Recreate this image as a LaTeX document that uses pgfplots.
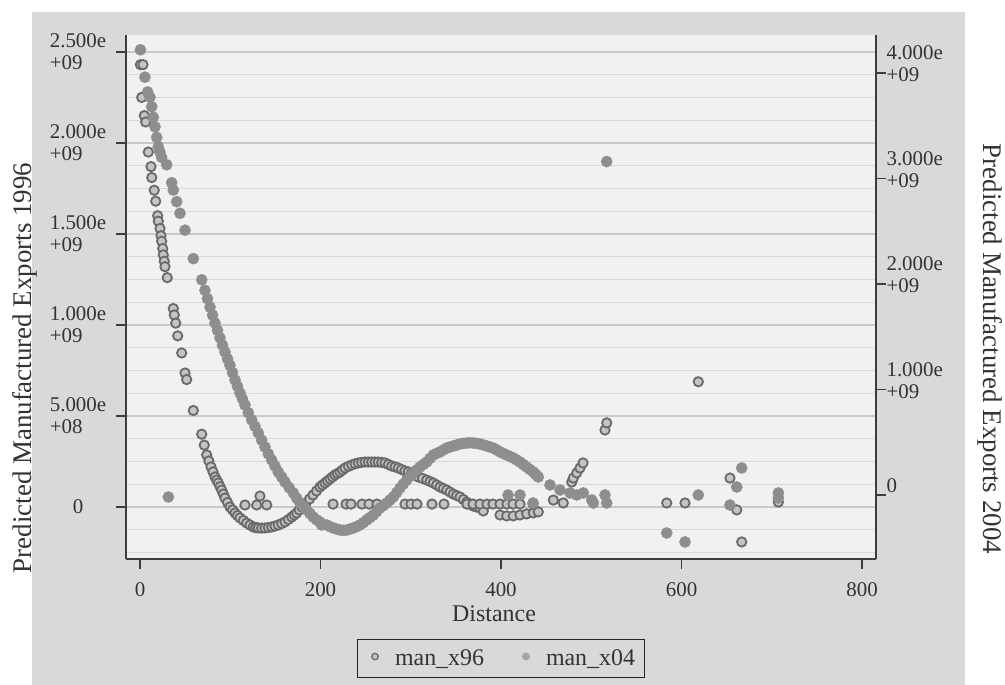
\documentclass[border=0pt]{standalone}
\usepackage{pgfplots}
\usepackage{pgfplotstable}
\pgfplotsset{compat=1.18}
\usepackage{fontspec}
\setmainfont{Liberation Serif}
\definecolor{outerbg}{HTML}{D9D9D9}
\definecolor{plotbg}{HTML}{F1F1F1}
\definecolor{gridminor}{HTML}{D9D9D9}
\definecolor{gridmajor}{HTML}{C9C9C9}
\definecolor{axiscol}{HTML}{3C3C3C}
\definecolor{ringc}{HTML}{6A6A6A}
\definecolor{ringfill}{HTML}{C4C4C4}
\definecolor{dotc}{HTML}{8E8E8E}

\pgfplotstableread{
d v
0.5 2.43e9
3.3 2.43e9
1.9 2.25e9
4.8 2.15e9
6.3 2.115e9
9.2 1.95e9
12.2 1.87e9
13.0 1.81e9
15.8 1.74e9
17.4 1.68e9
19.6 1.60e9
20.3 1.57e9
22.2 1.53e9
23.3 1.49e9
24.0 1.46e9
25.2 1.42e9
25.8 1.385e9
26.9 1.35e9
27.7 1.32e9
30.2 1.26e9
36.9 1.09e9
38.0 1.055e9
39.6 1.01e9
41.8 0.94e9
46.2 0.846e9
49.9 0.736e9
51.7 0.70e9
59.1 0.53e9
68.4 0.40e9
71.2 0.34e9
73.9 0.286e9
76.3 0.253e9
78.7 0.22e9
80.9 0.193e9
83.1 0.165e9
85.0 0.148e9
86.8 0.132e9
88.7 0.112e9
90.5 0.093e9
92.4 0.071e9
94.2 0.049e9
97.0 0.025e9
99.7 0.0
102.5 -0.016e9
105.3 -0.033e9
108.0 -0.047e9
110.8 -0.060e9
114.5 -0.074e9
118.2 -0.088e9
121.9 -0.099e9
125.5 -0.110e9
128.3 -0.113e9
131.1 -0.115e9
134.8 -0.116e9
138.5 -0.115e9
142.2 -0.113e9
145.9 -0.110e9
149.5 -0.105e9
153.2 -0.099e9
157.0 -0.091e9
160.7 -0.082e9
164.4 -0.069e9
168.1 -0.055e9
170.9 -0.044e9
173.6 -0.033e9
176.4 -0.016e9
179.2 0.0
184.0 0.022e9
187.9 0.044e9
191.7 0.066e9
195.6 0.088e9
199.4 0.110e9
202.2 0.121e9
205.0 0.132e9
207.8 0.143e9
210.5 0.154e9
213.3 0.165e9
216.0 0.176e9
218.8 0.184e9
221.6 0.192e9
224.4 0.203e9
227.1 0.214e9
230.9 0.223e9
234.6 0.231e9
238.3 0.237e9
241.9 0.242e9
245.6 0.245e9
249.3 0.247e9
253.0 0.247e9
256.7 0.247e9
260.4 0.247e9
264.0 0.247e9
267.8 0.245e9
271.5 0.242e9
275.2 0.234e9
278.9 0.225e9
282.6 0.220e9
286.2 0.214e9
289.9 0.206e9
293.6 0.198e9
297.3 0.193e9
301.0 0.187e9
304.7 0.176e9
308.4 0.165e9
313.0 0.157e9
317.7 0.148e9
321.4 0.140e9
325.0 0.132e9
328.7 0.121e9
332.4 0.110e9
336.1 0.102e9
339.8 0.093e9
343.5 0.082e9
347.2 0.071e9
350.9 0.063e9
354.6 0.055e9
358.3 0.041e9
362.0 0.027e9
365.7 0.016e9
369.3 0.005e9
373.0 0.000
376.7 -0.005e9
380.4 -0.022e9
398.9 -0.044e9
406.3 -0.049e9
413.6 -0.049e9
421.0 -0.044e9
428.5 -0.038e9
435.8 -0.033e9
441.3 -0.027e9
116.3 0.011e9
129.3 0.011e9
132.9 0.060e9
140.4 0.011e9
213.9 0.016e9
228.3 0.016e9
233.8 0.016e9
246.0 0.016e9
253.7 0.016e9
262.6 0.016e9
293.6 0.016e9
300.3 0.016e9
306.9 0.016e9
323.5 0.016e9
336.8 0.016e9
362.3 0.016e9
369.0 0.016e9
376.7 0.016e9
384.5 0.016e9
391.1 0.016e9
398.9 0.016e9
406.6 0.016e9
413.3 0.016e9
421.1 0.016e9
435.5 0.016e9
458.0 0.038e9
469.0 0.022e9
478.4 0.137e9
480.1 0.159e9
483.9 0.187e9
487.5 0.214e9
490.9 0.242e9
515.2 0.423e9
517.1 0.462e9
583.6 0.022e9
603.9 0.022e9
618.6 0.688e9
653.7 0.159e9
661.2 -0.016e9
666.7 -0.192e9
707.3 0.027e9
}\xninesix

\pgfplotstableread{
d v
0.5 4.22e9
5.5 3.96e9
8.5 3.82e9
11.1 3.77e9
13.0 3.68e9
14.7 3.58e9
16.6 3.49e9
18.5 3.39e9
20.3 3.30e9
22.1 3.25e9
24.0 3.20e9
29.6 3.13e9
35.1 2.96e9
36.9 2.89e9
40.7 2.78e9
44.3 2.67e9
49.9 2.51e9
59.1 2.24e9
68.4 2.04e9
72.0 1.94e9
74.8 1.86e9
77.6 1.78e9
80.4 1.705e9
83.1 1.63e9
85.9 1.56e9
88.6 1.49e9
91.4 1.42e9
94.2 1.355e9
97.0 1.29e9
99.7 1.23e9
102.5 1.16e9
105.3 1.09e9
108.0 1.03e9
110.8 0.967e9
113.5 0.91e9
116.3 0.853e9
120.0 0.78e9
123.8 0.711e9
127.5 0.65e9
131.1 0.588e9
134.8 0.52e9
138.5 0.455e9
142.2 0.39e9
145.9 0.332e9
149.5 0.275e9
153.2 0.218e9
157.0 0.17e9
160.7 0.123e9
165.3 0.07e9
169.9 0.019e9
173.6 -0.03e9
177.3 -0.076e9
181.0 -0.11e9
184.7 -0.142e9
188.3 -0.175e9
192.0 -0.209e9
195.7 -0.235e9
199.4 -0.256e9
201.3 -0.284e9
206.9 -0.284e9
210.5 -0.30e9
214.2 -0.313e9
217.9 -0.323e9
221.6 -0.332e9
225.3 -0.335e9
229.0 -0.332e9
232.6 -0.323e9
236.3 -0.313e9
240.0 -0.30e9
243.8 -0.284e9
247.5 -0.262e9
251.2 -0.237e9
254.8 -0.214e9
258.5 -0.190e9
262.2 -0.158e9
265.9 -0.123e9
269.6 -0.10e9
273.4 -0.076e9
277.0 -0.048e9
280.7 -0.019e9
284.4 0.023e9
288.1 0.066e9
291.8 0.104e9
295.5 0.142e9
299.1 0.176e9
302.8 0.209e9
306.5 0.237e9
310.2 0.265e9
314.0 0.29e9
317.7 0.313e9
321.3 0.346e9
325.0 0.379e9
328.7 0.394e9
332.4 0.408e9
336.1 0.427e9
339.8 0.445e9
343.5 0.455e9
347.2 0.464e9
350.9 0.474e9
354.6 0.483e9
358.3 0.489e9
362.0 0.493e9
365.6 0.495e9
369.3 0.493e9
373.0 0.489e9
376.7 0.483e9
380.4 0.474e9
384.2 0.464e9
387.8 0.455e9
391.5 0.445e9
395.2 0.427e9
398.9 0.408e9
402.6 0.394e9
406.3 0.379e9
410.0 0.365e9
413.6 0.351e9
417.3 0.332e9
421.0 0.313e9
424.7 0.289e9
428.5 0.265e9
432.1 0.242e9
435.8 0.218e9
438.5 0.195e9
441.3 0.171e9
31.4 -0.019e9
407.8 0.0
421.0 0.0
435.5 -0.076e9
454.3 0.095e9
465.4 0.047e9
476.5 0.019e9
483.9 0.0
491.2 0.019e9
500.5 -0.047e9
502.3 -0.076e9
515.2 0.0
517.1 -0.076e9
517.1 3.16e9
583.6 -0.36e9
603.9 -0.445e9
618.6 0.0
653.7 -0.095e9
661.2 0.076e9
666.7 0.256e9
707.3 0.019e9
707.3 -0.028e9
}\xzerofour

\begin{document}
\begin{tikzpicture}[x=1bp,y=1bp]
\useasboundingbox (0,0) rectangle (1005,685);
\fill[white] (0,0) rectangle (1005,685);
\fill[outerbg] (32,0) rectangle (965,673);
\fill[plotbg] (126,126) rectangle (876,650);
\begin{axis}[
  at={(126bp,126bp)}, anchor=south west,
  scale only axis, width=750bp, height=524bp,
  xmin=-15.5, xmax=815.5, ymin=-0.2857e9, ymax=2.593e9,
  axis x line*=bottom, axis y line*=left,
  axis line style={axiscol, line width=1.5bp},
  tick align=outside, major tick length=10bp, minor tick length=0pt,
  tick style={axiscol, line width=1.3bp},
  xtick={0,200,400,600,800},
  xticklabels={0,200,400,600,800},
  ytick={0,0.5e9,1e9,1.5e9,2e9,2.5e9},
  yticklabels={0,{5.000e\\+08},{1.000e\\+09},{1.500e\\+09},{2.000e\\+09},{2.500e\\+09}},
  minor ytick={-0.25e9,-0.125e9,0.125e9,0.25e9,0.375e9,0.625e9,0.75e9,0.875e9,1.125e9,1.25e9,1.375e9,1.625e9,1.75e9,1.875e9,2.125e9,2.25e9,2.375e9},
  ymajorgrids, yminorgrids,
  major grid style={gridmajor, line width=1.3bp},
  minor grid style={gridminor, line width=1.3bp},
  every tick label/.append style={font=\fontsize{21}{22}\selectfont, text=black!80},
  yticklabel style={align=left, anchor=center, xshift=-38bp},
  xticklabel style={yshift=-10bp},
  scaled ticks=false,
  xlabel={Distance},
  xlabel style={at={(axis description cs:0.4907,-0.104)}, anchor=center, font=\fontsize{24}{26}\selectfont, text=black!80},
  ylabel={Predicted Manufactured Exports 1996},
  ylabel style={at={(axis description cs:-0.135,0.3645)}, anchor=center, font=\fontsize{27}{29}\selectfont, text=black!80},
  clip=false,
]
\addplot[only marks, mark=*, mark size=4.7bp, mark options={draw=ringc, fill=ringfill, line width=1.8bp}] table[x=d, y=v] {\xninesix};
\end{axis}
\begin{axis}[
  at={(126bp,126bp)}, anchor=south west,
  scale only axis, width=750bp, height=524bp,
  xmin=-15.5, xmax=815.5, ymin=-0.6066e9, ymax=4.360e9,
  axis x line=none, axis y line*=right,
  axis line style={axiscol, line width=1.5bp},
  tick align=outside, major tick length=10bp,
  tick style={axiscol, line width=1.3bp},
  ytick={0,1e9,2e9,3e9,4e9},
  yticklabels={0,{1.000e\\+09},{2.000e\\+09},{3.000e\\+09},{4.000e\\+09}},
  scaled ticks=false,
  every tick label/.append style={font=\fontsize{21}{22}\selectfont, text=black!80},
  yticklabel style={align=left, anchor=west, yshift=9bp, xshift=-3bp},
  ylabel={Predicted Manufactured Exports 2004},
  ylabel style={at={(axis description cs:1.152,0.401)}, anchor=center, rotate=180, font=\fontsize{27}{29}\selectfont, text=black!80},
  legend style={at={(axis description cs:0.5,-0.19)}, anchor=center, draw=black!85, line width=1bp, fill=none,
    font=\fontsize{24}{26}\selectfont, text=black!80, inner xsep=8bp, inner ysep=8bp,
    /tikz/every even column/.append style={column sep=30bp}},
  legend columns=2, legend cell align=left,
  legend image code/.code={\path[draw=none, fill=none] (0bp,-10bp) rectangle (28bp,10bp); \draw[#1] plot coordinates {(10bp,2bp)};},
  clip=false,
]
\addlegendimage{only marks, mark=*, mark size=3.2bp, mark options={draw=ringc, fill=ringfill, line width=1.3bp}}
\addlegendentry{man\_x96}
\addlegendimage{only marks, mark=*, mark size=3.4bp, mark options={draw=dotc!80, fill=dotc!80}}
\addlegendentry{man\_x04}
\addplot[only marks, mark=*, mark size=5.6bp, mark options={draw=dotc, fill=dotc}, forget plot] table[x=d, y=v] {\xzerofour};
\end{axis}
\end{tikzpicture}
\end{document}
